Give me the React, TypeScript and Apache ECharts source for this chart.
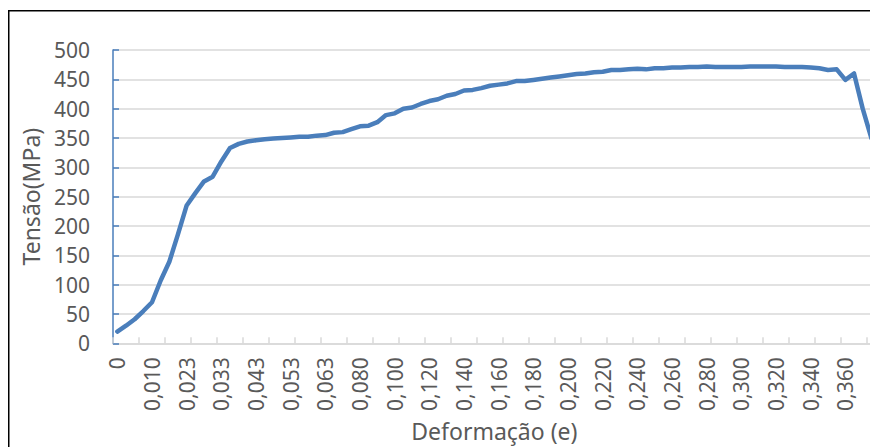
import React, { useEffect, useRef } from "react";
import * as echarts from "echarts";

const categories: string[] = [
  "0", "0,003", "0,005", "0,008",
  "0,010", "0,013", "0,015", "0,020",
  "0,023", "0,025", "0,028", "0,030",
  "0,033", "0,035", "0,038", "0,040",
  "0,043", "0,045", "0,048", "0,050",
  "0,053", "0,055", "0,058", "0,060",
  "0,063", "0,065", "0,070", "0,075",
  "0,080", "0,085", "0,090", "0,095",
  "0,100", "0,105", "0,110", "0,115",
  "0,120", "0,125", "0,130", "0,135",
  "0,140", "0,145", "0,150", "0,155",
  "0,160", "0,165", "0,170", "0,175",
  "0,180", "0,185", "0,190", "0,195",
  "0,200", "0,205", "0,210", "0,215",
  "0,220", "0,225", "0,230", "0,235",
  "0,240", "0,245", "0,250", "0,255",
  "0,260", "0,265", "0,270", "0,275",
  "0,280", "0,285", "0,290", "0,295",
  "0,300", "0,305", "0,310", "0,315",
  "0,320", "0,325", "0,330", "0,335",
  "0,340", "0,345", "0,350", "0,355",
  "0,360", "0,365", "0,370", "0,375",
];

const tensao: number[] = [
  20, 30, 41, 55, 70, 107, 139, 186, 235, 256, 276, 284,
  310, 333, 340, 344, 346, 348, 349, 350, 351, 352, 352, 354,
  355, 359, 360, 365, 370, 371, 377, 389, 392, 400, 402, 408,
  413, 416, 422, 425, 431, 432, 435, 439, 441, 443, 447, 447,
  449, 451, 453, 455, 457, 459, 460, 462, 463, 466, 466, 467,
  468, 467, 469, 469, 470, 470, 471, 471, 472, 471, 471, 471,
  471, 472, 472, 472, 472, 471, 471, 471, 470, 469, 466, 467,
  449, 460, 400, 350,
];

const yTicks = { min: 0, max: 500, interval: 50 };

const FONT = "'Noto Sans', 'Open Sans', sans-serif";
const TEXT = "#595959";
const GRID = "#d9d9d9";
const BLUE = "#4a7ebb";

export default function App() {
  const ref = useRef<HTMLDivElement>(null);
  useEffect(() => {
    if (!ref.current) return;
    const chart = echarts.init(ref.current, null, { renderer: "svg" });
    chart.setOption({
      animation: false,
      backgroundColor: "#ffffff",
      textStyle: { fontFamily: FONT },
      graphic: [
        {
          type: "rect",
          shape: { x: 0.75, y: 2.75, width: 1200, height: 1200 },
          style: { fill: "none", stroke: "#000000", lineWidth: 1.5 },
          silent: true,
        },
      ],
      grid: {
        left: 105,
        right: 2.3,
        top: 42,
        bottom: 103.7,
        containLabel: false,
        outerBoundsMode: "none",
      },
      xAxis: {
        type: "category",
        data: categories,
        boundaryGap: true,
        name: "Deformação (e)",
        nameLocation: "middle",
        nameGap: 76,
        nameTextStyle: { fontSize: 23, lineHeight: 24, color: TEXT, fontFamily: FONT },
        axisLine: { show: true, lineStyle: { color: GRID, width: 1.5 } },
        axisTick: {
          show: true,
          inside: true,
          interval: 2,
          length: 6,
          lineStyle: { color: GRID, width: 1.5 },
        },
        axisLabel: {
          interval: 3,
          rotate: 90,
          margin: 14,
          fontSize: 21,
          color: TEXT,
          fontFamily: FONT,
        },
        splitLine: { show: false },
      },
      yAxis: {
        type: "value",
        min: yTicks.min,
        max: yTicks.max,
        interval: yTicks.interval,
        name: "Tensão(MPa)",
        nameLocation: "middle",
        nameGap: 68,
        nameTextStyle: { fontSize: 23, lineHeight: 24, color: TEXT, fontFamily: FONT },
        axisLine: { show: true, lineStyle: { color: BLUE, width: 1.5 } },
        axisTick: {
          show: true,
          inside: true,
          length: 6,
          lineStyle: { color: BLUE, width: 1.5 },
        },
        axisLabel: { margin: 23, fontSize: 21, color: TEXT, fontFamily: FONT },
        splitLine: { show: true, lineStyle: { color: GRID, width: 1.5 } },
      },
      series: [
        {
          type: "line",
          data: tensao,
          showSymbol: false,
          symbol: "none",
          lineStyle: { color: BLUE, width: 4.5, cap: "round", join: "round" },
          itemStyle: { color: BLUE },
        },
      ],
    });
    return () => chart.dispose();
  }, []);
  return <div ref={ref} style={{ width: 870, height: 439 }} />;
}
